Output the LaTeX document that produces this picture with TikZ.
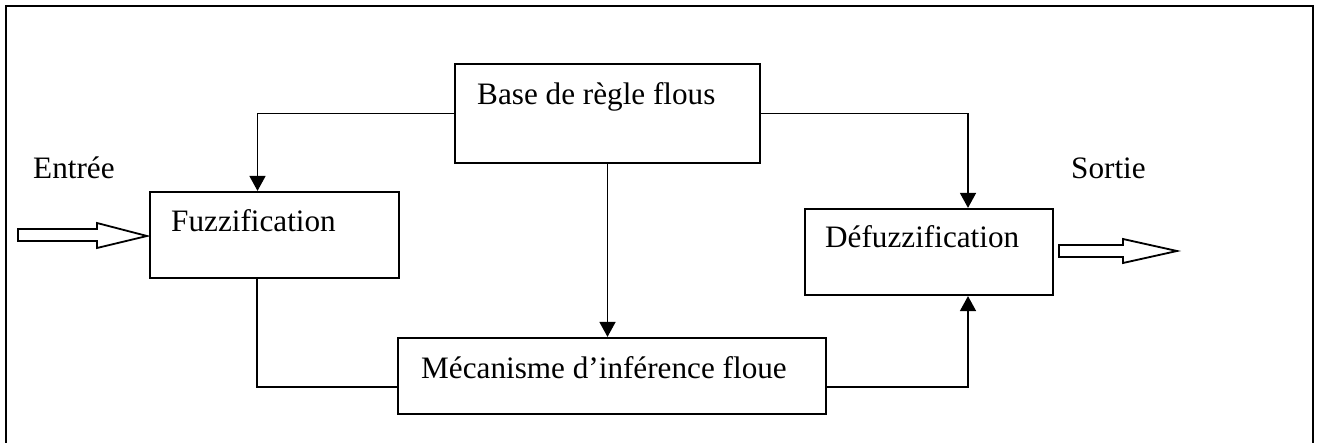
\documentclass[tikz,border=0pt]{standalone}
\usepackage{fontspec}
\setmainfont{Liberation Serif}
\usetikzlibrary{arrows.meta}

\tikzset{
    bloc/.style={draw, line width=2.2pt, rectangle, inner sep=0pt},
    lien/.style={line width=1.6pt, -{Triangle[length=15pt,width=16pt]}},
    trait/.style={line width=1.6pt},
    texte/.style={inner sep=0pt, anchor=base west, font=\fontsize{31.2}{36}\selectfont},
    fleche/.style={draw, line width=1.8pt, fill=white, line join=miter}
}

\begin{document}
\begin{tikzpicture}[x=1pt, y=-1pt]
    \useasboundingbox (0,0) rectangle (1321,443);

    % Cadre
    \draw[line width=2pt] (6,443) -- (6,6) -- (1313,6) -- (1313,443);

    % Blocs
    \node[bloc, minimum width=305pt, minimum height=99pt] (base) at (607.5,113.5) {};
    \node[bloc, minimum width=249pt, minimum height=86pt] (fuzz) at (274.5,235) {};
    \node[bloc, minimum width=248pt, minimum height=86pt] (defuzz) at (929,252) {};
    \node[bloc, minimum width=428pt, minimum height=76pt] (meca) at (612,376) {};

    % Textes
    \node[texte] (tbase) at (477,105) {Base de règle flous};
    \node[texte] (tfuzz) at (171,232) {Fuzzification};
    \node[texte] (tdefuzz) at (825,248) {Défuzzification};
    \node[texte] (tmeca) at (421,378) {Mécanisme d’inférence floue};
    \node[texte] (entree) at (33,179) {Entrée};
    \node[texte] (sortie) at (1071,179) {Sortie};

    % Liaisons
    \draw[lien] (base.west) -| ([xshift=-17pt]fuzz.north);
    \draw[lien] (base.east) -| ([xshift=39pt]defuzz.north);
    \draw[lien] (base.south) -- (base.south |- meca.north);
    \draw[trait] ([xshift=-17.5pt]fuzz.south) |- ([yshift=-11pt]meca.west);
    \draw[lien] ([yshift=-11pt]meca.east) -| ([xshift=39pt]defuzz.south);

    % Flèches d'entrée et de sortie
    \draw[fleche] (18,229) -- (97,229) -- (97,223) -- (147,236) -- (97,248) -- (97,241) -- (18,241) -- cycle;
    \draw[fleche] (1059,245) -- (1123,245) -- (1123,239) -- (1177,251) -- (1123,263) -- (1123,257) -- (1059,257) -- cycle;

\end{tikzpicture}
\end{document}
